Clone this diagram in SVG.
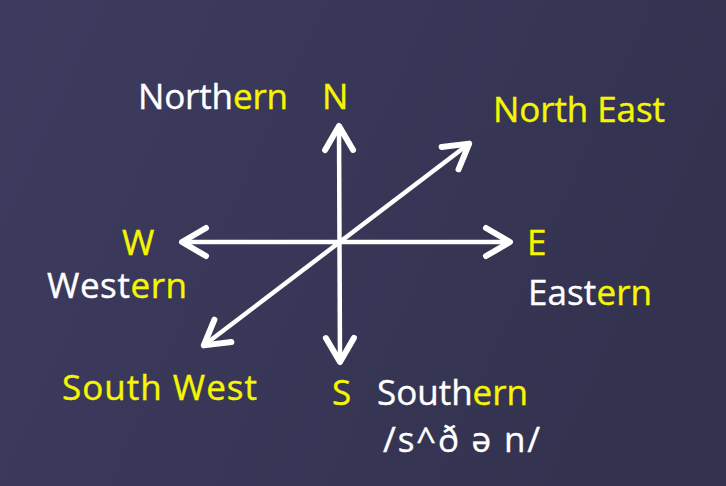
<svg xmlns="http://www.w3.org/2000/svg" width="726" height="486" viewBox="0 0 726 486">
<style>
.t{font-family:"Open Sans","Noto Sans","Liberation Sans",sans-serif;font-size:35px;fill:#ffffff;stroke:currentColor;stroke-width:0.4}
.w{color:#ffffff}
.y{fill:#f6f600;color:#f6f600}
.ln{stroke:#ffffff;stroke-width:4.5;fill:none}
</style>
<defs>
<linearGradient id="bg" x1="0" y1="0" x2="1" y2="0.3">
<stop offset="0" stop-color="#3d3c60"/>
<stop offset="1" stop-color="#33324f"/>
</linearGradient>
<marker id="ah" markerUnits="userSpaceOnUse" orient="auto-start-reverse" refX="0" refY="0" markerWidth="40" markerHeight="40" overflow="visible">
<path d="M-25,-14 L-1,0 L-25,14" fill="none" stroke="#ffffff" stroke-width="6" stroke-linejoin="round" stroke-linecap="round"/>
</marker>
</defs>
<rect width="726" height="486" fill="url(#bg)"/>
<g id="connectors">
<line class="ln" x1="339" y1="125" x2="340" y2="363" marker-start="url(#ah)" marker-end="url(#ah)"/>
<line class="ln" x1="181" y1="242" x2="511" y2="242" marker-start="url(#ah)" marker-end="url(#ah)"/>
<line class="ln" x1="203" y1="346" x2="470" y2="143" marker-start="url(#ah)" marker-end="url(#ah)"/>
</g>
<g id="north">
<text class="t w" x="138" y="109" textLength="150" lengthAdjust="spacing">North<tspan class="y">ern</tspan></text>
<text class="t y" x="322" y="109">N</text>
</g>
<g id="northeast">
<text class="t y" x="493" y="122" textLength="172" lengthAdjust="spacing">North East</text>
</g>
<g id="west">
<text class="t y" x="122" y="255">W</text>
<text class="t w" x="47" y="298" textLength="140" lengthAdjust="spacing">West<tspan class="y">ern</tspan></text>
</g>
<g id="east">
<text class="t y" x="527" y="255">E</text>
<text class="t w" x="528" y="305" textLength="124" lengthAdjust="spacing">East<tspan class="y">ern</tspan></text>
</g>
<g id="southwest">
<text class="t y" x="62" y="400" textLength="195" lengthAdjust="spacing">South West</text>
</g>
<g id="south">
<text class="t y" x="332" y="405">S</text>
<text class="t w" x="377" y="405" textLength="151" lengthAdjust="spacing">South<tspan class="y">ern</tspan></text>
<text class="t w" x="383" y="452" textLength="157" lengthAdjust="spacing">/s^ð ə n/</text>
</g>
</svg>
